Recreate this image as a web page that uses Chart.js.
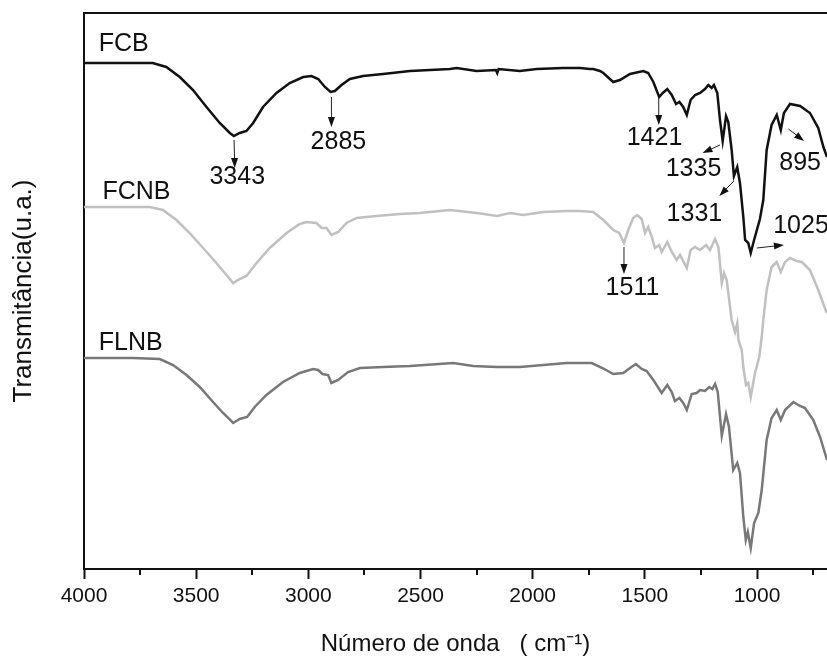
<!DOCTYPE html>
<html>
<head>
<meta charset="utf-8">
<script src="https://cdn.jsdelivr.net/npm/chart.js@4.4.1/dist/chart.umd.min.js"></script>
<style>
  html,body{margin:0;padding:0;background:#fff;}
  #wrap{width:827px;height:660px;}
</style>
</head>
<body>
<div id="wrap"><canvas id="c" width="827" height="660"></canvas></div>
<script>
// FTIR spectra, wavenumber (cm-1) vs transmittance (arbitrary, stacked)
const fcbWave = [4000,3880,3694,3633,3573,3514,3454,3395,3350,3332,3306,3276,3246,3202,3142,3083,3023,2986,2956,2926,2901,2882,2852,2815,2756,2667,2547,2458,2369,2339,2250,2164,2158,2152,2057,1982,1864,1789,1745,1730,1700,1685,1641,1611,1566,1507,1485,1462,1436,1420,1400,1380,1361,1346,1329,1313,1296,1276,1254,1232,1217,1202,1192,1177,1165,1153,1138,1128,1113,1103,1088,1076,1061,1053,1039,1028,1013,987,972,957,935,912,894,880,853,808,764,727,704,688];
const fcbT    = [506,506,506,502,492,479,462,446,436,433,436,438,446,462,476,486,492,493,490,482,477,478,484,490,493,495,498,499,500,501,498,499,496,500,498,500,501,501,500,500,498,496,487,489,495,498,496,487,472,476,480,474,465,467,462,454,469,474,476,480,484,481,484,476,449,428,453,447,419,393,402,386,352,329,326,316,329,350,369,419,444,454,439,456,465,463,456,441,422,412];

const fcnbWave = [4000,3707,3648,3588,3529,3469,3410,3365,3335,3306,3276,3231,3172,3097,3038,3008,2964,2941,2919,2897,2867,2830,2785,2696,2592,2503,2458,2369,2250,2158,2101,2042,1953,1849,1789,1730,1685,1641,1614,1593,1574,1552,1534,1514,1499,1485,1469,1455,1436,1425,1400,1380,1358,1343,1313,1296,1276,1254,1227,1210,1187,1172,1157,1147,1135,1113,1098,1088,1083,1068,1061,1049,1039,1028,1009,990,979,972,957,935,912,894,875,853,823,800,764,727,689];
const fcnbT    = [362,362,359,349,336,321,306,294,286,290,293,306,321,336,345,347,346,341,341,334,337,346,351,353,355,356,357,359,356,353,356,354,357,358,358,357,349,339,336,326,339,351,354,350,336,342,332,321,324,317,327,317,309,314,301,319,322,319,324,319,330,322,286,296,289,249,237,246,229,219,202,184,186,172,196,212,232,249,279,302,307,297,307,311,308,307,299,279,256];

const flnbWave = [4000,3781,3662,3603,3543,3484,3425,3380,3335,3306,3273,3239,3187,3113,3038,2979,2956,2937,2912,2897,2867,2823,2770,2667,2547,2354,2265,2161,2057,1953,1849,1737,1689,1641,1596,1566,1540,1514,1492,1462,1425,1400,1380,1366,1346,1329,1313,1291,1269,1254,1232,1213,1199,1187,1175,1157,1138,1125,1106,1088,1076,1061,1050,1041,1028,1013,994,979,957,935,912,894,875,838,808,786,749,719,688];
const flnbT    = [211,211,210,204,194,182,167,156,146,150,152,162,174,187,196,200,199,195,194,186,189,197,201,202,203,206,203,202,202,204,206,206,201,195,196,201,205,200,198,189,176,184,177,168,171,166,159,175,176,179,178,182,180,185,177,133,155,142,99,106,96,52,29,37,21,46,56,79,129,151,159,149,159,167,163,161,149,132,109];

const seriesNames  = ['FCB','FCNB','FLNB'];
const seriesColors = ['#111111','#c0c0c0','#787878'];

const majorTicks = [4000,3500,3000,2500,2000,1500,1000];
const minorTicks = [3750,3250,2750,2250,1750,1250,750];

// name labels and peak labels, placed in data units
const textLabels = ['FCB','FCNB','FLNB','3343','2885','1421','1335','1331','895','1025','1511'];
const textWave   = [3823,3766,3792,3317,2866,1457,1283,1279,808,804,1555];
const textT      = [525,377,226,392,427,431,400,355,406,343,281];

// arrows: from (w0,t0) to (w1,t1)
const arrowW0 = [3331,2897,1438,1165,1103,860,1001,1593];
const arrowT0 = [429,472,471,424,388,440,321,322];
const arrowW1 = [3328,2897,1438,1243,1168,790,880,1593];
const arrowT1 = [401,442,444,416,373,428,324,295];

const FONT = '"Liberation Sans", Arial, sans-serif';

function pts(ws, ts){ return ws.map((w,i)=>({x:w, y:ts[i]})); }

const extras = {
  id:'extras',
  afterDraw(chart){
    const {ctx, chartArea:a, scales:{x,y}} = chart;
    ctx.save();
    // top frame
    ctx.strokeStyle='#111'; ctx.lineWidth=2;
    ctx.beginPath(); ctx.moveTo(a.left-1, a.top); ctx.lineTo(a.right, a.top); ctx.stroke();
    // minor ticks
    minorTicks.forEach(w=>{
      const px = Math.round(x.getPixelForValue(w));
      ctx.beginPath(); ctx.moveTo(px, a.bottom); ctx.lineTo(px, a.bottom+6); ctx.stroke();
    });
    // arrows
    ctx.strokeStyle='#222'; ctx.fillStyle='#111'; ctx.lineWidth=1;
    arrowW0.forEach((w0,i)=>{
      const x0=x.getPixelForValue(w0), y0=y.getPixelForValue(arrowT0[i]);
      const x1=x.getPixelForValue(arrowW1[i]), y1=y.getPixelForValue(arrowT1[i]);
      const ang=Math.atan2(y1-y0,x1-x0), L=10, H=3.5;
      ctx.beginPath(); ctx.moveTo(x0,y0); ctx.lineTo(x1-Math.cos(ang)*L*0.8, y1-Math.sin(ang)*L*0.8); ctx.stroke();
      ctx.beginPath();
      ctx.moveTo(x1,y1);
      ctx.lineTo(x1-Math.cos(ang)*L-Math.sin(ang)*H, y1-Math.sin(ang)*L+Math.cos(ang)*H);
      ctx.lineTo(x1-Math.cos(ang)*L+Math.sin(ang)*H, y1-Math.sin(ang)*L-Math.cos(ang)*H);
      ctx.closePath(); ctx.fill();
    });
    // labels
    ctx.font='25px '+FONT; ctx.textAlign='center'; ctx.textBaseline='middle'; ctx.fillStyle='#111';
    textLabels.forEach((t,i)=>{
      ctx.fillText(t, x.getPixelForValue(textWave[i]), y.getPixelForValue(textT[i]));
    });
    ctx.restore();
  }
};

const datasets = [
  {label:seriesNames[0], data:pts(fcbWave,fcbT)},
  {label:seriesNames[1], data:pts(fcnbWave,fcnbT)},
  {label:seriesNames[2], data:pts(flnbWave,flnbT)}
].map((d,i)=>Object.assign(d,{borderColor:seriesColors[i], borderWidth:2.5, pointRadius:0, tension:0, fill:false}));

new Chart(document.getElementById('c'),{
  type:'line',
  data:{datasets},
  options:{
    responsive:false, animation:false, devicePixelRatio:1,
    layout:{padding:{top:13,right:0,left:0,bottom:0}},
    plugins:{legend:{display:false}, tooltip:{enabled:false}},
    scales:{
      x:{
        type:'linear', reverse:true, min:688, max:4000,
        afterFit(s){ s.height = 91; },
        afterBuildTicks(s){ s.ticks = majorTicks.map(v=>({value:v})); },
        ticks:{color:'#111', font:{family:FONT, size:21}, padding:5, maxRotation:0, autoSkip:false, includeBounds:false,
               callback:v=>String(v)},
        grid:{drawOnChartArea:false, drawTicks:true, tickLength:10, tickColor:'#111', tickWidth:2},
        border:{display:true, color:'#111', width:2},
        title:{display:true, text:'Número de onda   ( cm⁻¹)', color:'#111', font:{family:FONT, size:24}, padding:{top:0,bottom:1}}
      },
      y:{
        min:0, max:556,
        afterFit(s){ s.width = 84; },
        ticks:{display:false},
        grid:{drawOnChartArea:false, drawTicks:false},
        border:{display:true, color:'#111', width:2},
        title:{display:true, text:'Transmitância(u.a.)', color:'#111', font:{family:FONT, size:26}, padding:{top:8,bottom:0}}
      }
    }
  },
  plugins:[extras]
});
</script>
</body>
</html>
